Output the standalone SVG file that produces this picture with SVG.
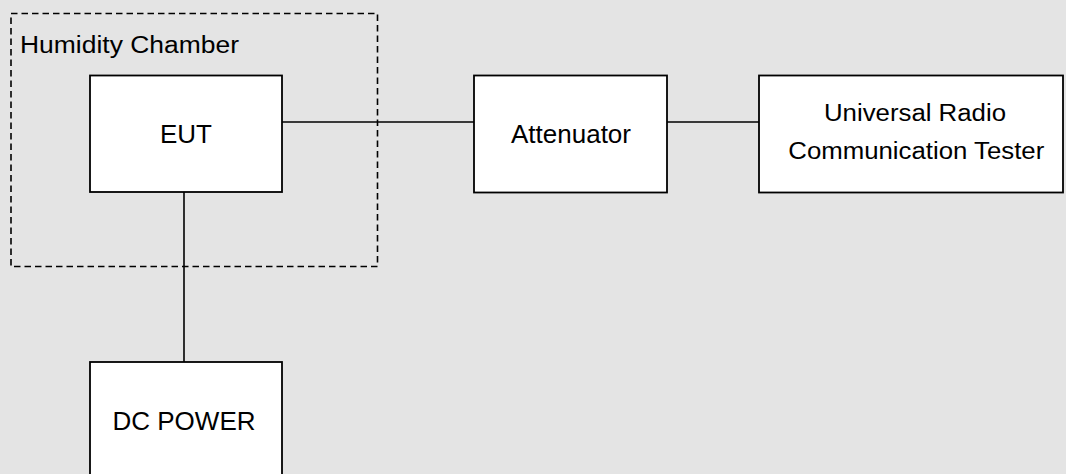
<svg xmlns="http://www.w3.org/2000/svg" width="1066" height="474" viewBox="0 0 1066 474">
<style>
.box{fill:#ffffff;stroke:#000000;stroke-width:1.8}
.chamber{fill:none;stroke:#000000;stroke-width:1.6;stroke-dasharray:6.5 4}
.wire{fill:none;stroke:#000000;stroke-width:1.6}
.lbl{font-family:"Liberation Sans",Arial,sans-serif;fill:#000000}
.big{font-size:26px}
.mid{font-size:23px}
</style>
<rect x="0" y="0" width="1066" height="474" fill="#e4e4e4"/>
<g id="humidity-chamber">
<rect class="chamber" x="11" y="13.5" width="366.5" height="253"/>
<text class="lbl mid" x="20" y="53.3" textLength="219" lengthAdjust="spacingAndGlyphs">Humidity Chamber</text>
</g>
<g id="connectors">
<line class="wire" x1="282" y1="122" x2="474" y2="122"/>
<line class="wire" x1="667" y1="122" x2="759" y2="122"/>
<line class="wire" x1="184" y1="192" x2="184" y2="362"/>
</g>
<g id="eut">
<rect class="box" x="90" y="75.5" width="192" height="116.5"/>
<text class="lbl big" x="186" y="142.7" text-anchor="middle">EUT</text>
</g>
<g id="attenuator">
<rect class="box" x="474" y="75.5" width="193" height="117"/>
<text class="lbl big" x="571" y="143.3" text-anchor="middle">Attenuator</text>
</g>
<g id="tester">
<rect class="box" x="759" y="75.5" width="304" height="117"/>
<text class="lbl mid" x="824" y="121" textLength="182" lengthAdjust="spacingAndGlyphs">Universal Radio</text>
<text class="lbl mid" x="788.3" y="159" textLength="256" lengthAdjust="spacingAndGlyphs">Communication Tester</text>
</g>
<g id="dc-power">
<rect class="box" x="90" y="362" width="192" height="130"/>
<text class="lbl big" x="184" y="430" text-anchor="middle">DC POWER</text>
</g>
</svg>
